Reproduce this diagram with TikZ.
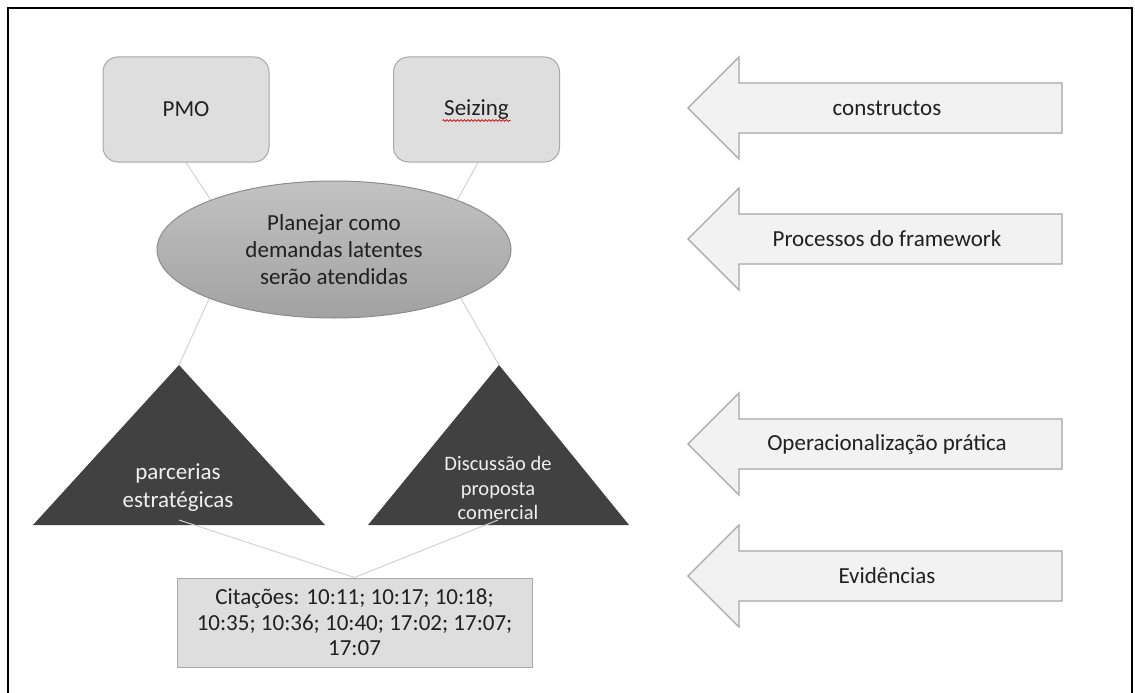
\documentclass[tikz,border=0pt]{standalone}
\usepackage{fontspec}
\setmainfont{Carlito}
\usetikzlibrary{shapes.geometric,decorations.pathmorphing,calc}
\pgfdeclarelayer{background}
\pgfsetlayers{background,main}

\definecolor{boxfill}{HTML}{DEDEDE}
\definecolor{boxline}{HTML}{A8A8A8}
\definecolor{arrowfill}{HTML}{F2F2F2}
\definecolor{arrowline}{HTML}{A6A6A6}
\definecolor{trifill}{HTML}{414141}
\definecolor{linkcol}{HTML}{D2D2D2}
\definecolor{ellline}{HTML}{8C8C8C}
\definecolor{elltop}{HTML}{C2C2C2}
\definecolor{ellbot}{HTML}{A2A2A2}
\definecolor{inkcol}{HTML}{202020}

\begin{document}
\begin{tikzpicture}[x=1pt,y=-1pt,
  construct/.style={draw=boxline, fill=boxfill, line width=1pt, rounded corners=15pt,
    minimum width=166pt, minimum height=105pt, inner sep=0pt,
    font=\fontsize{23}{27}\selectfont, text=inkcol},
  process/.style={ellipse, draw=ellline, line width=1pt, top color=elltop, bottom color=ellbot,
    minimum width=354pt, minimum height=137pt, inner sep=0pt, align=center,
    font=\fontsize{23}{27}\selectfont, text=inkcol},
  practice/.style={fill=trifill},
  practicetext/.style={align=center, text=white!94!black, inner sep=0pt},
  evidence/.style={draw=boxline, fill=boxfill, line width=1pt, minimum width=355pt,
    minimum height=89pt, inner sep=0pt, align=center,
    font=\fontsize{23}{25.5}\selectfont, text=inkcol},
  levelarrow/.style={draw=arrowline, fill=arrowfill, line width=1.3pt, line join=miter},
  leveltext/.style={font=\fontsize{23}{27}\selectfont, text=inkcol, inner sep=0pt},
  link/.style={draw=linkcol, line width=1pt}]

\useasboundingbox (0,0) rectangle (1135,693);

% outer frame (open at the bottom)
\draw[line width=2.2pt, black] (8,700) -- (8,8) -- (1132,8) -- (1132,700);

% constructs
\node[construct] (pmo) at (186,109.5) {PMO};
\node[construct] (seiz) at (476.5,109.5) {Seizing};
\draw[red!80!black, line width=0.7pt, decorate,
      decoration={snake, amplitude=0.9pt, segment length=3.5pt}]
  ($(seiz.center)+(-34,11)$) -- ($(seiz.center)+(34,11)$);

% framework process
\node[process] (proc) at (334,249.5) {Planejar como\\demandas latentes\\serão atendidas};

% practical operationalisation
\coordinate (triL) at (179,365);
\coordinate (triR) at (499,365);
\fill[practice] (triL) -- (325,525) -- (33,525) -- cycle;
\fill[practice] (triR) -- (629,525) -- (368,525) -- cycle;
\node[practicetext, font=\fontsize{23}{28}\selectfont] (parc) at (178,488) {parcerias\\estratégicas};
\node[practicetext, font=\fontsize{20.5}{24.5}\selectfont] (disc) at (498,488) {Discussão de\\proposta\\comercial};

% evidence
\node[evidence] (cit) at (354.5,622.5) {Citações: 10:11; 10:17; 10:18;\\10:35; 10:36; 10:40; 17:02; 17:07;\\17:07};

% connectors
\coordinate (procNW) at (224,220);
\coordinate (procNE) at (449,215);
\coordinate (procSW) at (214,288);
\coordinate (procSE) at (455,288);
\coordinate (baseL) at (179,520);
\coordinate (baseR) at (498,520);
\begin{pgfonlayer}{background}
  \draw[link] (pmo.south) -- (procNW);
  \draw[link] (seiz.south) ++(1.5,0) -- (procNE);
  \draw[link] (triL) -- (procSW);
  \draw[link] (triR) -- (procSE);
\end{pgfonlayer}
\draw[link] (baseL) -- (cit.north);
\draw[link] (baseR) -- (cit.north);

% level arrows
\draw[levelarrow] (1062,83) -- (739,83) -- (739,57) -- (688,108) -- (739,159) -- (739,133) -- (1062,133) -- cycle;
\node[leveltext] (lv1) at (887,108) {constructos};
\draw[levelarrow] (1062,214) -- (739,214) -- (739,188) -- (688,239) -- (739,290) -- (739,264) -- (1062,264) -- cycle;
\node[leveltext] (lv2) at (887,239) {Processos do framework};
\draw[levelarrow] (1062,419) -- (739,419) -- (739,393) -- (688,444) -- (739,495) -- (739,469) -- (1062,469) -- cycle;
\node[leveltext] (lv3) at (887,444) {Operacionalização prática};
\draw[levelarrow] (1062,551) -- (739,551) -- (739,525) -- (688,576) -- (739,627) -- (739,601) -- (1062,601) -- cycle;
\node[leveltext] (lv4) at (887,576) {Evidências};
\end{tikzpicture}
\end{document}
